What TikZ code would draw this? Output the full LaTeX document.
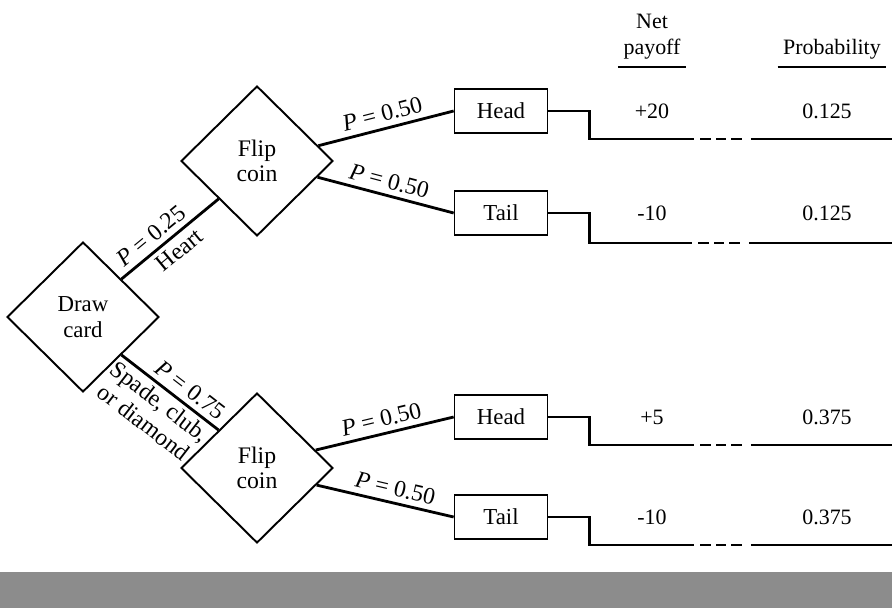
\documentclass[tikz,border=0pt]{standalone}
\usepackage{fontspec}
\setmainfont{Liberation Serif}
\usepackage{tikz}
\usetikzlibrary{shapes.geometric,calc}

\begin{document}
\begin{tikzpicture}[
  x=0.02cm, y=-0.02cm,
  chance/.style={diamond, draw, line width=1.1pt, inner sep=0pt,
                 minimum width=3.04cm, minimum height=3cm, align=center,
                 font=\fontsize{13.5}{14}\selectfont},
  outcome/.style={rectangle, draw, line width=1pt, minimum width=1.86cm,
                  minimum height=0.88cm, font=\fontsize{13}{15}\selectfont},
  branch/.style={line width=1.6pt},
  prob/.style={sloped, above, inner sep=3pt, font=\fontsize{13.5}{15}\selectfont},
  payline/.style={line width=1.6pt,
                  dash pattern=on 99pt off 3.4pt on 6.2pt off 2.8pt on 5.7pt off 2.8pt on 6.2pt off 5.1pt on 100pt},
  val/.style={font=\fontsize{12.5}{15}\selectfont},
  hdr/.style={anchor=south, align=center, inner xsep=3pt, inner ysep=4pt,
              font=\fontsize{12.5}{15}\selectfont},
  rule/.style={line width=1.2pt}
]
  \useasboundingbox (0,0) rectangle (892,608);

  % decision points
  \node[chance, font=\fontsize{13}{15}\selectfont] (draw) at (83,317) {Draw\\card};
  \node[chance] (flip1) at (257,161) {Flip\\coin};
  \node[chance] (flip2) at (257,468) {Flip\\coin};

  % outcomes
  \node[outcome] (head1) at (501,111) {Head};
  \node[outcome] (tail1) at (501,213) {Tail};
  \node[outcome] (head2) at (501,417) {Head};
  \node[outcome] (tail2) at (501,517) {Tail};

  \draw[branch] (draw.north east) -- node[prob, pos=.4] {\textit{P} = 0.25}
                                     node[prob, below, pos=.5] {Heart} (flip1.south west);
  \draw[branch] (draw.south east) -- node[prob, pos=.62] {\textit{P} = 0.75}
                                     node[prob, below, pos=.48, inner sep=2pt, align=center] {Spade, club,\\or diamond} (flip2.north west);

  \draw[branch] (flip1.14) -- node[prob] {\textit{P} = 0.50} (head1.west);
  \draw[branch] (flip1.-15) -- node[prob] {\textit{P} = 0.50} (tail1.west);
  \draw[branch] (flip2.17) -- node[prob] {\textit{P} = 0.50} (head2.west);
  \draw[branch] (flip2.-16) -- node[prob, pos=.55] {\textit{P} = 0.50} (tail2.west);

  % payoff lines
  \coordinate (end1) at (892,139);
  \coordinate (end2) at (892,243);
  \coordinate (end3) at (892,445);
  \coordinate (end4) at (892,545);
  \foreach \b/\e in {head1/end1, tail1/end2, head2/end3, tail2/end4}
    \draw[payline] (\b.east) -- ++(41,0) |- (\e);

  % table
  \node[hdr] (payhd) at (652,67) {Net\\payoff};
  \node[hdr] (probhd) at (832,67) {Probability};
  \draw[rule] (payhd.south west) -- (payhd.south east);
  \draw[rule] (probhd.south west) -- (probhd.south east);

  \node[val] (pay1) at (652,111) {+20};
  \node[val] (pr1) at (827,111) {0.125};
  \node[val] (pay2) at (652,213) {-10};
  \node[val] (pr2) at (827,213) {0.125};
  \node[val] (pay3) at (652,417) {+5};
  \node[val] (pr3) at (827,417) {0.375};
  \node[val] (pay4) at (652,517) {-10};
  \node[val] (pr4) at (827,517) {0.375};

  \fill[black!45] (0,572) rectangle (892,608);
\end{tikzpicture}
\end{document}
